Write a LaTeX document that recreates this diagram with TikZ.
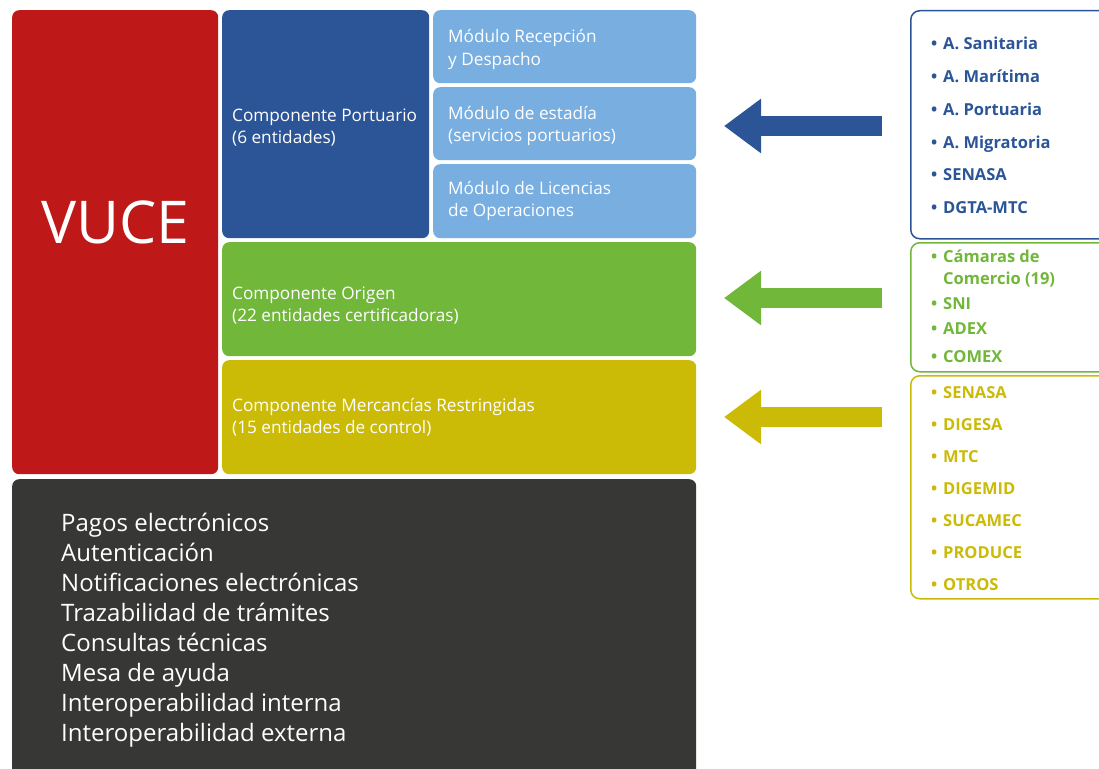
\documentclass[tikz,border=0pt]{standalone}
\usepackage{fontspec}
\setmainfont{Open Sans}
\usetikzlibrary{arrows.meta}
\definecolor{vred}{HTML}{BE1918}
\definecolor{vblue}{HTML}{2C5598}
\definecolor{vlblue}{HTML}{79AEE0}
\definecolor{vgreen}{HTML}{70B73A}
\definecolor{vyellow}{HTML}{CBBB07}
\definecolor{vdark}{HTML}{373736}
\begin{document}
\begin{tikzpicture}[x=1pt,y=-1pt,
  area/.style={rectangle, rounded corners=7pt, inner sep=0pt, anchor=north west},
  ctext/.style={anchor=base west, inner sep=0pt, text=white, align=left,
    font=\fontsize{17.2}{22}\selectfont},
  listbox/.style={rectangle, rounded corners=9pt, line width=1.5pt, fill=white,
    inner sep=0pt, anchor=north west, minimum width=200pt},
  item/.style={anchor=base west, inner sep=0pt, font=\bfseries\fontsize{16.5}{20}\selectfont},
  svc/.style={anchor=base west, inner sep=0pt, text=white, font=\fontsize{24}{30}\selectfont},
  bigarrow/.style={line width=20pt, -{Triangle[length=37pt,width=52pt]}}]
\useasboundingbox (0,0) rectangle (1099,768);
\clip (0,0) rectangle (1099,768);
\fill[white] (0,0) rectangle (1099,768);
% left column
\node[area, fill=vred, minimum width=206pt, minimum height=464pt] (vuce) at (12,10) {};
\node[text=white, inner sep=0pt, font=\fontsize{59}{64}\selectfont] (vucet) at (115.5,222) {VUCE};
% port component
\node[area, fill=vblue, minimum width=207pt, minimum height=228pt] (port) at (222,10) {};
\node[area, fill=vlblue, minimum width=263pt, minimum height=73pt] (m1) at (433,10) {};
\node[area, fill=vlblue, minimum width=263pt, minimum height=73pt] (m2) at (433,87) {};
\node[area, fill=vlblue, minimum width=263pt, minimum height=74pt] (m3) at (433,164) {};
\node[area, fill=vgreen, minimum width=474pt, minimum height=114pt] (orig) at (222,242) {};
\node[area, fill=vyellow, minimum width=474pt, minimum height=114pt] (merc) at (222,360) {};
\node[ctext] (portt) at (232,143) {Componente Portuario\\(6 entidades)};
\node[ctext] (m1t) at (448,65) {Módulo Recepción\\y Despacho};
\node[ctext] (m2t) at (448,141) {Módulo de estadía\\(servicios portuarios)};
\node[ctext] (m3t) at (448,216) {Módulo de Licencias\\de Operaciones};
\node[ctext] (origt) at (232,321) {Componente Origen\\(22 entidades certificadoras)};
\node[ctext] (merct) at (232,433) {Componente Mercancías Restringidas\\(15 entidades de control)};
% services
\node[area, fill=vdark, minimum width=684pt, minimum height=300pt] (serv) at (12,479) {};
\foreach \t [count=\i] in {Pagos electrónicos, Autenticación, Notificaciones electrónicas,
  Trazabilidad de trámites, Consultas técnicas, Mesa de ayuda,
  Interoperabilidad interna, Interoperabilidad externa}
  \node[svc] (s\i) at (61,{531+30*(\i-1)}) {\t};
% right lists
\node[listbox, draw=vblue, minimum height=228pt] (lblue) at (910,10) {};
\node[listbox, draw=vgreen, minimum height=129pt] (lgreen) at (910,242) {};
\node[listbox, draw=vyellow, minimum height=223pt] (lyellow) at (910,375) {};
\foreach \t/\y [count=\i] in {A. Sanitaria/49, A. Marítima/82, A. Portuaria/115,
  A. Migratoria/148, SENASA/180, DGTA-MTC/213}
  \node[item, text=vblue] (b\i) at (931,\y) {\makebox[12pt][l]{•}\t};
\foreach \t/\y [count=\i] in {Cámaras de/262, SNI/309, ADEX/334, COMEX/362}
  \node[item, text=vgreen] (g\i) at (931,\y) {\makebox[12pt][l]{•}\t};
\node[item, text=vgreen] (g1b) at (943,284) {Comercio (19)};
\foreach \t/\y [count=\i] in {SENASA/398, DIGESA/430, MTC/462, DIGEMID/494,
  SUCAMEC/526, PRODUCE/558, OTROS/590}
  \node[item, text=vyellow] (y\i) at (931,\y) {\makebox[12pt][l]{•}\t};
% arrows
\coordinate (a1s) at (882,126); \coordinate (a1e) at (724,126);
\coordinate (a2s) at (882,298); \coordinate (a2e) at (724,298);
\coordinate (a3s) at (882,417); \coordinate (a3e) at (724,417);
\draw[bigarrow, vblue] (a1s) -- (a1e);
\draw[bigarrow, vgreen] (a2s) -- (a2e);
\draw[bigarrow, vyellow] (a3s) -- (a3e);
\end{tikzpicture}
\end{document}
